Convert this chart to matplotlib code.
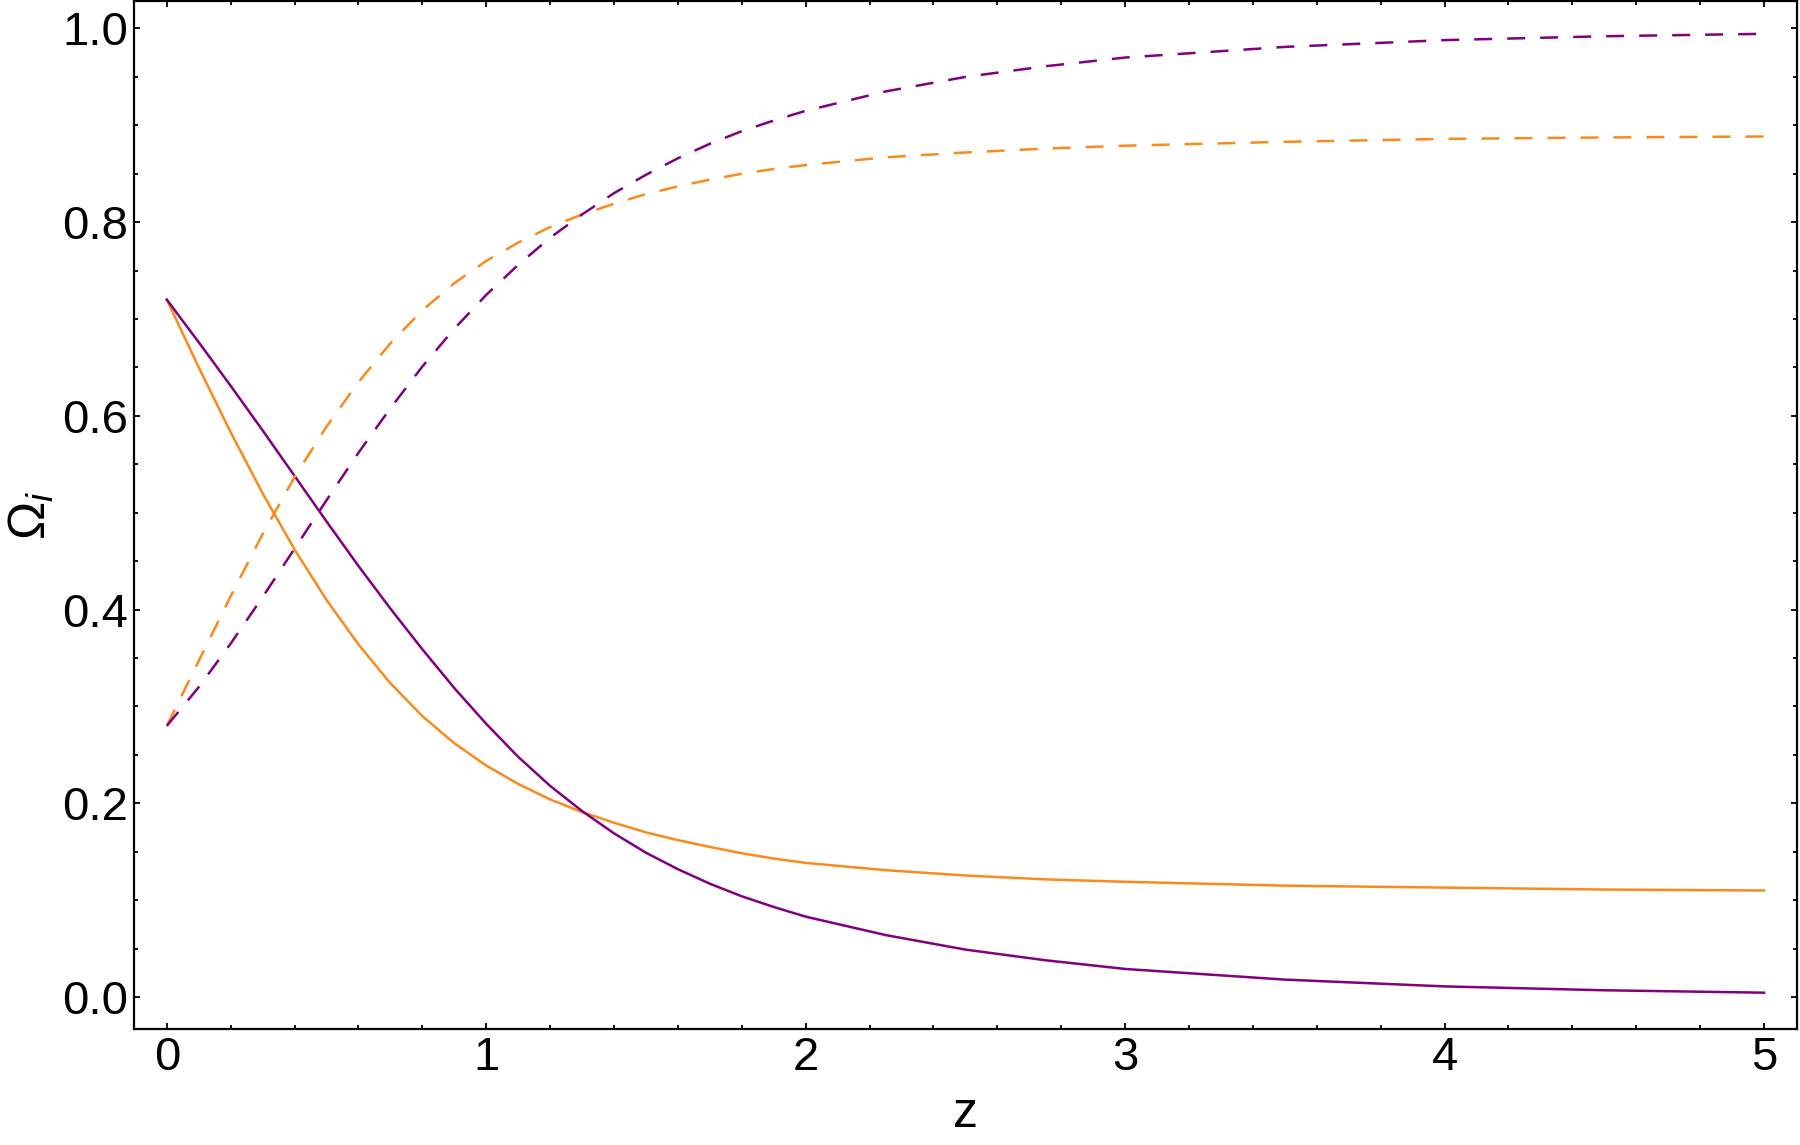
import matplotlib
matplotlib.use("Agg")
import matplotlib.pyplot as plt
from matplotlib.ticker import MultipleLocator

# redshift grid the curves were read at
z = [0.0, 0.1, 0.2, 0.3, 0.4, 0.5, 0.6, 0.7, 0.8, 0.9, 1.0, 1.1, 1.2, 1.3,
     1.4, 1.5, 1.6, 1.7, 1.8, 1.9, 2.0, 2.25, 2.5, 2.75, 3.0, 3.5, 4.0,
     4.5, 5.0]

# purple model
purple_solid = [0.720, 0.676, 0.631, 0.585, 0.538, 0.491, 0.445, 0.401, 0.359,
                0.319, 0.282, 0.248, 0.218, 0.192, 0.169, 0.149, 0.132, 0.117,
                0.104, 0.093, 0.083, 0.064, 0.049, 0.038, 0.029, 0.018, 0.011,
                0.007, 0.0045]
purple_dashed = [0.280, 0.320, 0.365, 0.413, 0.463, 0.513, 0.562, 0.608, 0.651,
                 0.690, 0.725, 0.756, 0.784, 0.808, 0.830, 0.849, 0.866, 0.881,
                 0.894, 0.905, 0.915, 0.935, 0.950, 0.961, 0.970, 0.981, 0.988,
                 0.992, 0.9945]

# orange model
orange_solid = [0.720, 0.650, 0.583, 0.520, 0.462, 0.410, 0.364, 0.324, 0.290,
                0.262, 0.239, 0.220, 0.204, 0.191, 0.180, 0.170, 0.162, 0.155,
                0.1485, 0.143, 0.1385, 0.131, 0.1255, 0.1215, 0.119, 0.115,
                0.113, 0.111, 0.110]
orange_dashed = [0.280, 0.347, 0.414, 0.478, 0.537, 0.589, 0.635, 0.675, 0.709,
                 0.737, 0.760, 0.779, 0.795, 0.808, 0.819, 0.829, 0.837, 0.844,
                 0.850, 0.855, 0.859, 0.867, 0.872, 0.876, 0.879, 0.883, 0.886,
                 0.8875, 0.8885]

PURPLE = "#800080"
ORANGE = "#FA8A1C"

plt.rcParams["font.family"] = ["Liberation Sans", "DejaVu Sans"]
plt.rcParams["mathtext.fontset"] = "custom"
plt.rcParams["mathtext.rm"] = "Liberation Sans"
plt.rcParams["mathtext.it"] = "Liberation Sans:italic"

fig = plt.figure(figsize=(18, 11.45), dpi=100)
ax = fig.add_axes([0.0744, 0.1013, 0.9239, 0.8975])

lw = 1.8
ax.plot(z, orange_solid, color=ORANGE, lw=lw)
ax.plot(z, purple_solid, color=PURPLE, lw=lw)
ax.plot(z, orange_dashed, color=ORANGE, lw=lw, dashes=(7.2, 6))
ax.plot(z, purple_dashed, color=PURPLE, lw=lw, dashes=(7.2, 6))

ax.set_xlim(-0.103, 5.103)
ax.set_ylim(-0.033, 1.028)

ax.xaxis.set_major_locator(MultipleLocator(1))
ax.xaxis.set_minor_locator(MultipleLocator(0.2))
ax.yaxis.set_major_locator(MultipleLocator(0.2))
ax.yaxis.set_minor_locator(MultipleLocator(0.05))
ax.yaxis.set_major_formatter(plt.FormatStrFormatter("%.1f"))

ax.tick_params(which="both", direction="in", top=True, right=True,
               width=1.3, labelsize=34)
ax.tick_params(which="major", length=4)
ax.tick_params(which="minor", length=3)
ax.tick_params(axis="x", pad=5)
ax.tick_params(axis="y", pad=4)

for s in ax.spines.values():
    s.set_linewidth(1.6)

ax.set_xlabel("z", fontsize=36, labelpad=8)
ax.set_ylabel(r"$\Omega_i$", fontsize=37, labelpad=4)

fig.savefig("out.png", dpi=100)
